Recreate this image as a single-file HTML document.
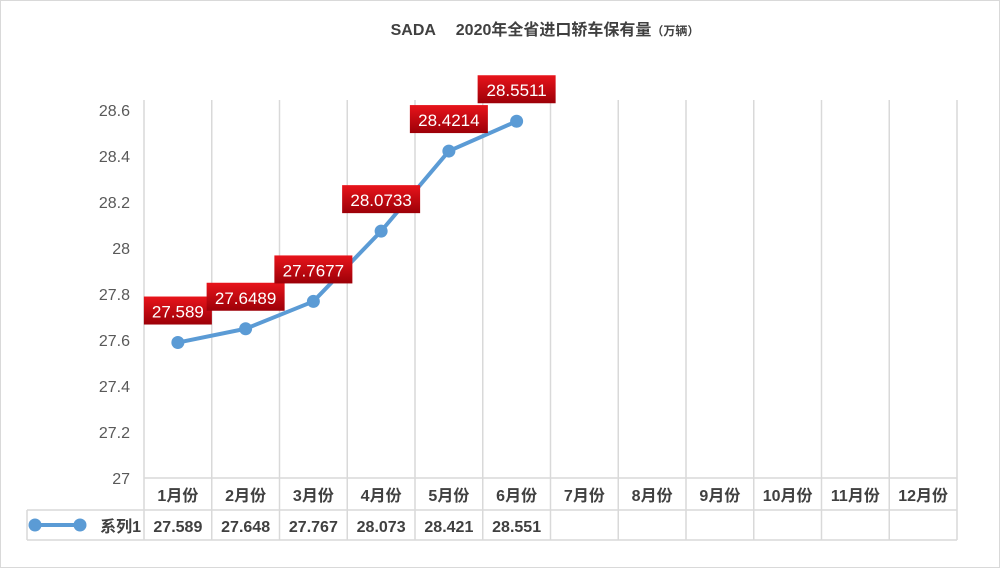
<!DOCTYPE html>
<html><head><meta charset="utf-8"><style>
body{margin:0;width:1000px;height:568px;background:#fff;font-family:"Liberation Sans","Noto Sans CJK SC",sans-serif;overflow:hidden}
</style></head><body>
<svg id="c" width="1000" height="568" xmlns="http://www.w3.org/2000/svg">
<defs><linearGradient id="rg" x1="0" y1="0" x2="0" y2="1"><stop offset="0" stop-color="#e8141b"/><stop offset="1" stop-color="#9c0008"/></linearGradient></defs>
<rect x="0.5" y="0.5" width="999" height="567" fill="#fff" stroke="#d9d9d9"/>
<text x="545" y="35" text-anchor="middle" font-size="16" font-weight="bold" fill="#404040">SADA　 2020年全省进口轿车保有量<tspan font-size="12">（万辆）</tspan></text>
<g id="g"></g>
</svg>
<script>
const categories=["1月份","2月份","3月份","4月份","5月份","6月份","7月份","8月份","9月份","10月份","11月份","12月份"];
const values=[27.589,27.6489,27.7677,28.0733,28.4214,28.5511];
const tableLabels=["27.589","27.648","27.767","28.073","28.421","28.551"];
const pointLabels=["27.589","27.6489","27.7677","28.0733","28.4214","28.5511"];
const yTicks=[27,27.2,27.4,27.6,27.8,28,28.2,28.4,28.6];
const NS="http://www.w3.org/2000/svg",g=document.getElementById('g');
const x0=144,x1=957,cw=(x1-x0)/categories.length;
const y=v=>478-(v-27)*230, xc=i=>x0+cw*(i+0.5);
function mk(t,a,txt){const e=document.createElementNS(NS,t);for(const k in a)e.setAttribute(k,a[k]);if(txt!=null)e.textContent=txt;g.appendChild(e);return e;}
for(let i=0;i<=categories.length;i++){const l=mk('line',{x1:x0+cw*i,x2:x0+cw*i,y1:100,y2:540,stroke:'#d9d9d9','stroke-width':1.5});

}
[478,510,540].forEach(yy=>{const l=mk('line',{x1:yy==478?x0:27,x2:x1,y1:yy,y2:yy,stroke:'#d9d9d9','stroke-width':1.5});

});
const lv=mk('line',{x1:27,x2:27,y1:510,y2:540,stroke:'#d9d9d9','stroke-width':1.5});


yTicks.forEach(t=>{const e=mk('text',{x:130,y:y(t)+6,'text-anchor':'end','font-size':16,fill:'#595959'},String(t));

});
categories.forEach((c,i)=>{const e=mk('text',{x:xc(i),y:501,'text-anchor':'middle','font-size':16,'font-weight':'bold',fill:'#404040'},c);

});
tableLabels.forEach((t,i)=>{const e=mk('text',{x:xc(i),y:532,'text-anchor':'middle','font-size':16,'font-weight':'bold',fill:'#404040'},t);

});
const ll=mk('line',{x1:35,x2:80,y1:525,y2:525,stroke:'#5b9bd5','stroke-width':4});


[35,80].forEach(cx=>{const c=mk('circle',{cx:cx,cy:525,r:6.5,fill:'#5b9bd5'});

});
const lt=mk('text',{x:141,y:532,'text-anchor':'end','font-size':16,'font-weight':'bold',fill:'#404040'},'系列1');


const pl=mk('polyline',{points:values.map((v,i)=>xc(i)+','+y(v)).join(' '),fill:'none',stroke:'#5b9bd5','stroke-width':4,'stroke-linejoin':'round'});


values.forEach((v,i)=>{const c=mk('circle',{cx:xc(i),cy:y(v),r:6.5,fill:'#5b9bd5'});


const w=pointLabels[i].length*10+8,by=y(v)-46;
const r=mk('rect',{x:xc(i)-w/2,y:by,width:w,height:28,fill:'url(#rg)'});


const t=mk('text',{x:xc(i),y:by+21,'text-anchor':'middle','font-size':17,fill:'#fff'},pointLabels[i]);

});
</script>
</body></html>
